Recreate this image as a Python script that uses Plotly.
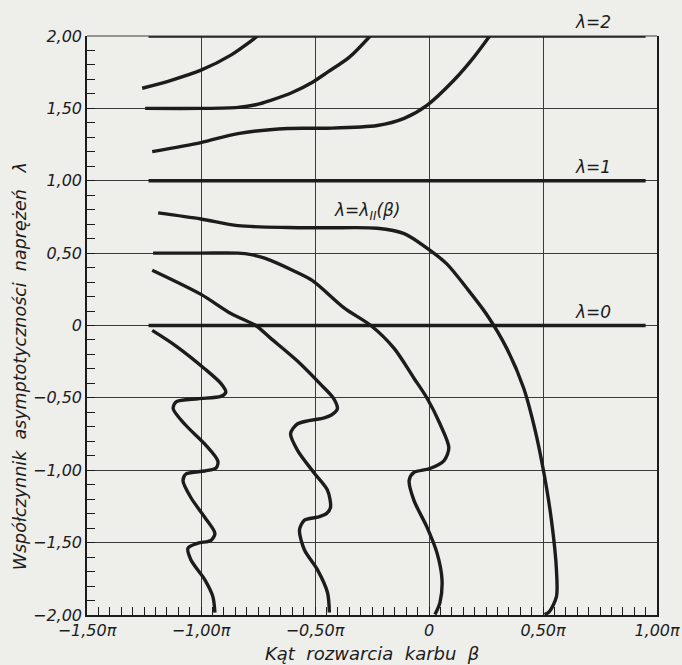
import numpy as np
import plotly.graph_objects as go

# ---- data (beta in units of pi, lambda) ----
A_beta = [-1.258, -1.131, -1.0, -0.869, -0.751]
A_lam = [1.639, 1.694, 1.764, 1.868, 2.0]

B_beta = [-1.245, -1.0, -0.838, -0.76, -0.694, -0.6, -0.511, -0.445, -0.349, -0.258]
B_lam = [1.5, 1.5, 1.507, 1.525, 1.556, 1.61, 1.681, 1.75, 1.854, 2.0]

C_beta = [-1.214, -1.0, -0.838, -0.62, -0.445, -0.227, -0.109, -0.009, 0.109, 0.197, 0.266]
C_lam = [1.201, 1.264, 1.326, 1.361, 1.363, 1.382, 1.431, 1.521, 1.694, 1.854, 2.0]

D_beta = [-1.188, -1.0, -0.838, -0.62, -0.445, -0.227, -0.109, -0.009, 0.079, 0.166,
          0.253, 0.341, 0.415, 0.463, 0.502, 0.537, 0.559, 0.559, 0.528, 0.507]
D_lam = [0.778, 0.736, 0.69, 0.677, 0.675, 0.672, 0.635, 0.535, 0.424, 0.257,
         0.076, -0.158, -0.432, -0.707, -1.002, -1.345, -1.688, -1.873, -1.976, -1.997]

E_beta = [-1.21, -1.0, -0.838, -0.78, -0.721, -0.59, -0.511, -0.371, -0.255, -0.153,
          -0.066, -0.009, 0.048, 0.087, 0.066, 0.004, -0.066, -0.087, -0.066, -0.009,
          0.035, 0.057, 0.048, 0.026]
E_lam = [0.5, 0.5, 0.5, 0.49, 0.465, 0.375, 0.31, 0.12, 0.0, -0.158,
         -0.364, -0.501, -0.679, -0.844, -0.933, -0.988, -1.015, -1.07, -1.208, -1.393,
         -1.571, -1.756, -1.914, -1.997]

F_beta = [-1.214, -1.0, -0.869, -0.76, -0.694, -0.576, -0.476, -0.42, -0.402, -0.43,
          -0.459, -0.576, -0.607, -0.576, -0.502, -0.445, -0.432, -0.45, -0.489, -0.546,
          -0.568, -0.546, -0.489, -0.445, -0.437]
F_lam = [0.382, 0.215, 0.083, 0.0, -0.089, -0.247, -0.405, -0.5, -0.576, -0.62,
         -0.638, -0.679, -0.748, -0.864, -1.022, -1.139, -1.256, -1.30, -1.324, -1.345,
         -1.413, -1.551, -1.688, -1.846, -1.983]

G_beta = [-1.214, -1.114, -0.983, -0.913, -0.891, -0.913, -1.013, -1.109, -1.122, -1.07,
          -0.983, -0.926, -0.934, -0.983, -1.066, -1.079, -1.044, -0.983, -0.939, -0.956,
          -1.013, -1.057, -1.044, -0.983, -0.948, -0.939]
G_lam = [-0.034, -0.137, -0.30, -0.40, -0.46, -0.49, -0.506, -0.527, -0.574, -0.684,
         -0.82, -0.937, -0.985, -1.005, -1.026, -1.073, -1.19, -1.326, -1.436, -1.484,
         -1.504, -1.538, -1.62, -1.757, -1.873, -1.983]

H_lam = [0, 1, 2]          # constant solutions lambda = 0, 1, 2
H_beta = [-1.23, 0.95]

x_tick_vals = [-1.5, -1.0, -0.5, 0.0, 0.5, 1.0]
x_tick_text = ["\u22121,50\u03c0", "\u22121,00\u03c0", "\u22120,50\u03c0", "0", "0,50\u03c0", "1,00\u03c0"]
y_tick_vals = [-2.0, -1.5, -1.0, -0.5, 0.0, 0.5, 1.0, 1.5, 2.0]
y_tick_text = ["\u22122,00", "\u22121,50", "\u22121,00", "\u22120,50", "0", "0,50", "1,00", "1,50", "2,00"]

INK = "#1c1c1c"
GRID = "#3a3a3a"
PAPER = "#eeeeeb"
FONT = "DejaVu Sans, sans-serif"

fig = go.Figure()

for lam in H_lam:
    fig.add_trace(go.Scatter(x=H_beta, y=[lam, lam], mode="lines",
                             line=dict(color=INK, width=3.6), showlegend=False,
                             hoverinfo="skip", cliponaxis=False))

for bx, ly in [(A_beta, A_lam), (B_beta, B_lam), (C_beta, C_lam), (D_beta, D_lam),
               (E_beta, E_lam), (F_beta, F_lam), (G_beta, G_lam)]:
    fig.add_trace(go.Scatter(x=bx, y=ly, mode="lines",
                             line=dict(color=INK, width=3.4, shape="spline", smoothing=0.8),
                             showlegend=False, hoverinfo="skip", cliponaxis=False))

tickfont = dict(family=FONT, size=16, color=INK, style="italic")

fig.update_xaxes(range=[-1.5, 1.0], tickmode="array", tickvals=x_tick_vals, ticktext=x_tick_text,
                 ticks="inside", ticklen=8, tickwidth=1.2, tickcolor=INK, automargin=False,
                 showgrid=True, gridcolor=GRID, gridwidth=1.1, zeroline=False,
                 showline=True, linecolor=INK, linewidth=2,
                 minor=dict(tickmode="array", tickvals=list(np.round(np.arange(-1.5, 1.0001, 0.05), 3)),
                            ticks="inside", ticklen=8, tickwidth=1.2, tickcolor=INK, showgrid=False),
                 tickfont=tickfont)
fig.update_yaxes(range=[-2.0, 2.0], tickmode="array", tickvals=y_tick_vals, ticktext=y_tick_text,
                 ticks="inside", ticklen=8, tickwidth=1.2, tickcolor=INK, automargin=False,
                 showgrid=True, gridcolor=GRID, gridwidth=1.1, zeroline=False,
                 showline=True, linecolor=INK, linewidth=1.6, mirror=True,
                 minor=dict(tickmode="array", tickvals=list(np.round(np.arange(-2.0, 2.0001, 0.1), 3)),
                            ticks="inside", ticklen=8, tickwidth=1.2, tickcolor=INK, showgrid=False),
                 tickfont=tickfont)

# top border line
fig.add_shape(type="line", xref="paper", yref="paper", x0=0, x1=1, y0=1, y1=1,
              line=dict(color=GRID, width=1.1))

lab = dict(family=FONT, size=17, color=INK, style="italic")
for txt, yy in [("\u03bb=2", 2.0), ("\u03bb=1", 1.0), ("\u03bb=0", 0.0)]:
    fig.add_annotation(x=0.72, y=yy, text=txt, showarrow=False, font=lab,
                       xanchor="center", yanchor="bottom", yshift=2)
fig.add_annotation(x=-0.27, y=0.79, text="\u03bb=\u03bb<sub>II</sub>(\u03b2)", showarrow=False,
                   font=lab, xanchor="center", yanchor="middle")

fig.add_annotation(xref="paper", yref="paper", x=0.5, y=-0.066,
                   text="K\u0105t  rozwarcia  karbu  \u03b2", showarrow=False,
                   font=dict(family=FONT, size=18, color=INK, style="italic"),
                   xanchor="center", yanchor="middle")
fig.add_annotation(xref="paper", yref="paper", x=-0.117, y=0.43, textangle=-90,
                   text="Wsp\u00f3\u0142czynnik  asymptotyczno\u015bci  napr\u0119\u017ce\u0144   \u03bb",
                   showarrow=False,
                   font=dict(family=FONT, size=17.5, color=INK, style="italic"),
                   xanchor="center", yanchor="middle")

fig.update_layout(width=682, height=665, paper_bgcolor=PAPER, plot_bgcolor=PAPER,
                  margin=dict(l=87, r=25, t=36, b=50, autoexpand=False), showlegend=False)

fig.write_html("out.html", config={"displayModeBar": False},
               post_script="document.body.style.margin='0';document.body.style.overflow='hidden';"
                           "document.body.style.background='#eeeeeb';")
